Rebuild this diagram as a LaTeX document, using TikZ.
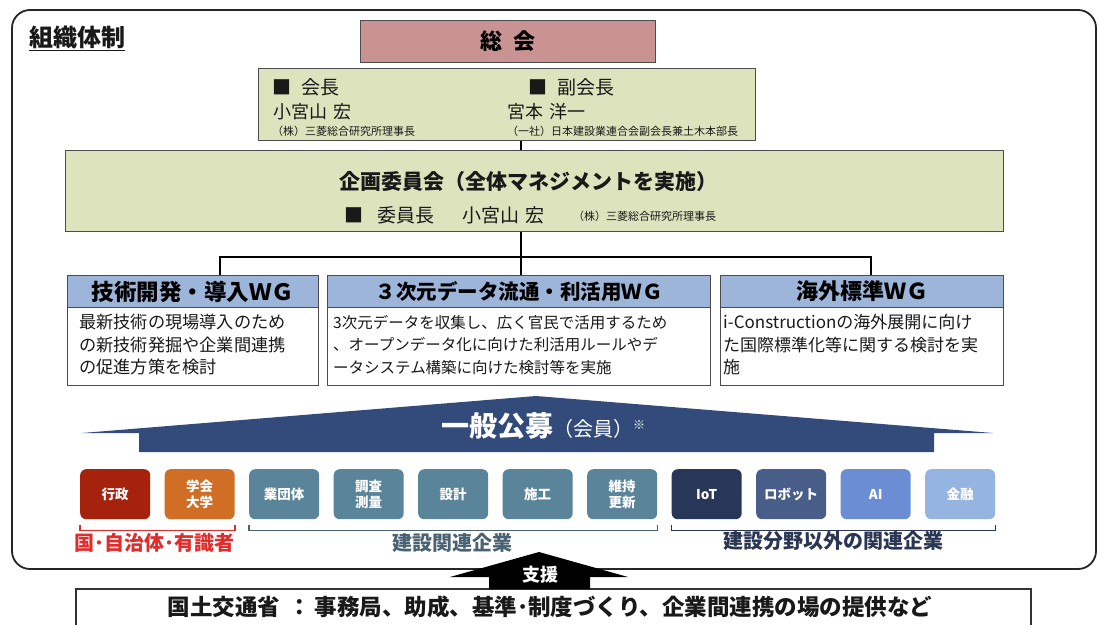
\documentclass[tikz,border=0pt]{standalone}
\usepackage{fontspec}
\setmainfont{Noto Sans CJK JP}
\newcommand\fsz[1]{\fontsize{#1}{#1}\selectfont}
\newcommand\fsl[2]{\fontsize{#1}{#2}\selectfont}
\definecolor{souk}{HTML}{C99393}
\definecolor{olivebg}{HTML}{DDE4BD}
\definecolor{wgblue}{HTML}{9EB5DA}
\definecolor{navyb}{HTML}{334B7B}
\definecolor{gyosei}{HTML}{A6220C}
\definecolor{gakkai}{HTML}{CF6E24}
\definecolor{teal}{HTML}{5A8499}
\definecolor{iot}{HTML}{283757}
\definecolor{robo}{HTML}{485E88}
\definecolor{aicol}{HTML}{6B8DD3}
\definecolor{kinyu}{HTML}{95B4DF}
\definecolor{redlab}{HTML}{E22B2B}
\definecolor{teallab}{HTML}{4A6373}
\definecolor{navylab}{HTML}{2B3652}
\tikzset{
  frame/.style={draw=black!85, line width=1.8pt, rounded corners=18pt},
  box/.style={draw=black!70, line width=1pt, inner sep=0pt, anchor=north west},
  txt/.style={inner sep=0pt, text=black!90},
  conn/.style={draw=black, line width=2pt},
  cat/.style={rounded corners=6pt, minimum width=70pt, minimum height=50pt, inner sep=0pt, text=white, font=\bfseries\fsl{13.5}{16.5}, align=center, anchor=north west},
  brace/.style={line width=1.4pt},
  lab/.style={inner sep=0pt, font=\bfseries\fsz{20}},
}
\begin{document}
\begin{tikzpicture}[x=1pt,y=-1pt]
\useasboundingbox (0,0) rectangle (1099,624);
\fill[white] (0,0) rectangle (1099,624);
% outer frame
\draw[frame] (12,10) rectangle (1096,569);
\node[txt, anchor=west, font=\bfseries\fsz{24}] (title) at (29,38) {\underline{組織体制}};
% general assembly
\node[box, fill=souk, minimum width=295pt, minimum height=42pt, font=\bfseries\fsz{22}] (soukai) at (360,20) {総\hspace{12pt}会};
% chair box
\node[box, fill=olivebg, minimum width=497pt, minimum height=72pt] (kaicho) at (258,68) {};
\node[txt, anchor=west, font=\fsz{19}] (k1) at (272,87) {■\hspace{10pt}会長};
\node[txt, anchor=west, font=\fsz{18}] (k2) at (273,112) {小宮山\hspace{6pt}宏};
\node[txt, anchor=west, font=\fsz{11}] (k3) at (272,131) {（株）三菱総合研究所理事長};
\node[txt, anchor=west, font=\fsz{19}] (f1) at (528,87) {■\hspace{10pt}副会長};
\node[txt, anchor=west, font=\fsz{18}] (f2) at (507,112) {宮本\hspace{6pt}洋一};
\node[txt, anchor=west, font=\fsz{11}] (f3) at (507,131) {（一社）日本建設業連合会副会長兼土木本部長};
% planning committee
\node[box, fill=olivebg, minimum width=938pt, minimum height=81pt] (kikaku) at (65,150) {};
\node[txt, font=\bfseries\fsz{21}] (kt) at (528,182) {企画委員会（全体マネジメントを実施）};
\node[txt, anchor=west, font=\fsz{19}] (ka) at (344,215) {■};
\node[txt, anchor=west, font=\fsz{19}] (kb) at (377,215) {委員長};
\node[txt, anchor=west, font=\fsz{19}] (kc) at (462,215) {小宮山\hspace{6pt}宏};
\node[txt, anchor=west, font=\fsz{11}] (kd) at (573,216) {（株）三菱総合研究所理事長};
% WGs
\node[box, fill=wgblue, minimum width=251pt, minimum height=32pt, font=\bfseries\fsz{22.5}] (wg1h) at (67,275) {技術開発・導入ＷＧ};
\node[box, fill=white, minimum width=251pt, minimum height=78pt] (wg1b) at (67,307) {};
\node[box, fill=wgblue, minimum width=383pt, minimum height=32pt, font=\bfseries\fsz{20.5}] (wg2h) at (327,275) {３次元データ流通・利活用ＷＧ};
\node[box, fill=white, minimum width=383pt, minimum height=78pt] (wg2b) at (327,307) {};
\node[box, fill=wgblue, minimum width=283pt, minimum height=32pt, font=\bfseries\fsz{22}] (wg3h) at (720,275) {海外標準ＷＧ};
\node[box, fill=white, minimum width=283pt, minimum height=78pt] (wg3b) at (720,307) {};
\node[txt, anchor=north west, align=left, font=\fsl{17.2}{22.5}] (wg1t) at (79,314) {最新技術の現場導入のため\\の新技術発掘や企業間連携\\の促進方策を検討};
\node[txt, anchor=north west, align=left, font=\fsl{15.5}{22.5}] (wg2t) at (333,315) {3次元データを収集し、広く官民で活用するため\\、オープンデータ化に向けた利活用ルールやデ\\ータシステム構築に向けた検討等を実施};
\node[txt, anchor=north west, align=left, font=\fsl{17}{22.5}] (wg3t) at (723,314) {i-Constructionの海外展開に向け\\た国際標準化等に関する検討を実\\施};
% connectors
\coordinate (jn) at (521,257);
\coordinate (jl) at (220,257);
\coordinate (jr) at (871,257);
\draw[conn] (kaicho.south -| jn) -- (kikaku.north -| jn);
\draw[conn] (kikaku.south -| jn) -- (wg2h.north -| jn);
\draw[conn] (wg1h.north -| jl) -- (jl) -- (jr) -- (wg3h.north -| jr);
% banner
\fill[navyb] (82,433) -- (536,396) -- (993,433) -- (934,433) -- (934,452) -- (139,452) -- (139,433) -- cycle;
\node[txt, text=white, font=\bfseries\fsz{28}] (koubo) at (543,426) {一般公募{\mdseries\fsz{20}（会員）}\raisebox{7pt}{\fsz{12}※}};
% categories
\node[cat, fill=gyosei] (c1) at (80,469) {行政};
\node[cat, fill=gakkai] (c2) at (164.5,469) {学会\\大学};
\node[cat, fill=teal] (c3) at (249,469) {業団体};
\node[cat, fill=teal] (c4) at (333.5,469) {調査\\測量};
\node[cat, fill=teal] (c5) at (418,469) {設計};
\node[cat, fill=teal] (c6) at (502.5,469) {施工};
\node[cat, fill=teal] (c7) at (587,469) {維持\\更新};
\node[cat, fill=iot] (c8) at (671.5,469) {IoT};
\node[cat, fill=robo] (c9) at (756,469) {ロボット};
\node[cat, fill=aicol] (c10) at (840.5,469) {AI};
\node[cat, fill=kinyu] (c11) at (925,469) {金融};
% braces
\draw[brace, draw=redlab] ([yshift=-6pt]c1.south west) -- ([yshift=-11pt]c1.south west) -- ([yshift=-11pt]c2.south east) -- ([yshift=-6pt]c2.south east);
\draw[brace, draw=teallab] ([yshift=-6pt]c3.south west) -- ([yshift=-11pt]c3.south west) -- ([yshift=-11pt]c7.south east) -- ([yshift=-6pt]c7.south east);
\draw[brace, draw=navylab] ([yshift=-6pt]c8.south west) -- ([yshift=-11pt]c8.south west) -- ([yshift=-11pt]c11.south east) -- ([yshift=-6pt]c11.south east);
\node[lab, text=redlab] (l1) at (154,543) {国･自治体･有識者};
\node[lab, text=teallab] (l2) at (452,543) {建設関連企業};
\node[lab, text=navylab] (l3) at (833,541) {建設分野以外の関連企業};
% MLIT box
\node[box, fill=white, draw=black!80, line width=1.5pt, minimum width=955pt, minimum height=60pt] (mlit) at (75,588) {};
\node[txt, font=\bfseries\fsz{22.5}] (mt) at (550,607) {国土交通省\hspace{8pt}：\hspace{4pt}事務局、助成、基準･制度づくり、企業間連携の場の提供など};
% support arrow
\fill[black] (539,552) -- (628,577) -- (590,577) -- (590,589) -- (489,589) -- (489,577) -- (450,577) -- cycle;
\node[txt, text=white, font=\bfseries\fsz{18}] (shien) at (540,575) {支援};
\end{tikzpicture}
\end{document}
